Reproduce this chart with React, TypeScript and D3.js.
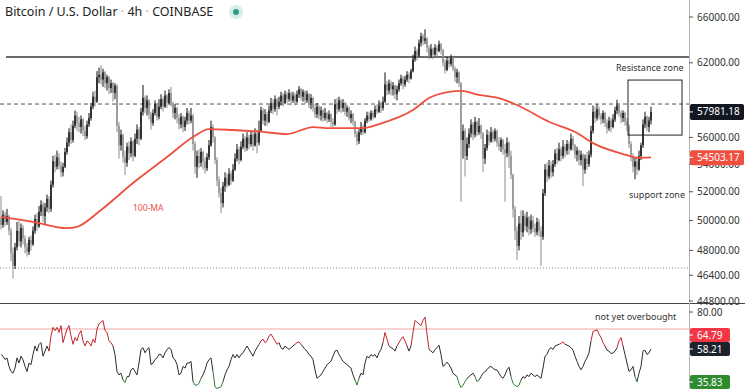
import React from "react";
import * as d3 from "d3";

// BTC/USD 4h candles (open = previous close)
const firstOpen = 50200;
const closes = [
  49700, 50400, 49900, 50300, 49300, 47800, 47000, 48200, 49300, 48600,
  49500, 48800, 48200, 47900, 48700, 48400, 49300, 50100, 49600, 50600,
  51100, 50300, 50900, 51500, 50800, 52500, 54200, 53800, 54500, 53900,
  53400, 53800, 54900, 55600, 56400, 55800, 56900, 57700, 57100, 56800,
  57400, 56500, 56100, 57000, 57500, 58400, 59200, 58800, 60800, 61000,
  60600, 61200, 60300, 60800, 59900, 60300, 59500, 60100, 56900, 55400,
  56200, 54500, 54100, 55300, 54800, 55700, 54600, 55900, 56600, 55900,
  58000, 59100, 58300, 58900, 57800, 57100, 57900, 58600, 57600, 58400,
  59000, 58400, 59300, 58700, 59500, 58700, 57900, 58300, 57500, 57000,
  57600, 56800, 57300, 57900, 57300, 57700, 55500, 53800, 54600, 54100,
  54900, 54200, 53700, 54500, 55400, 56800, 56000, 54300, 52800, 51900,
  51200, 52400, 53000, 52500, 53300, 52800, 53600, 54400, 55100, 54300,
  55300, 55900, 55200, 56000, 55500, 56200, 55400, 56300, 55600, 56500,
  58100, 57300, 57800, 57200, 58100, 58700, 58200, 59000, 58400, 58800,
  59300, 58700, 59400, 59000, 59500, 58900, 59300, 58800, 59400, 59800,
  59200, 59600, 58900, 59400, 58700, 59100, 58300, 57800, 58400, 57700,
  58100, 57500, 57900, 57400, 57800, 57200, 57000, 58600, 58200, 58900,
  58300, 58700, 58000, 58300, 57500, 57800, 57200, 56300, 55700, 56400,
  56800, 56400, 57300, 57700, 57400, 57900, 57600, 58200, 58000, 58500,
  58300, 58800, 60200, 59700, 60300, 59800, 60100, 59400, 59800, 60300,
  60700, 60200, 60600, 61000, 60700, 61300, 62300, 63000, 62600, 63700,
  64300, 63900, 64100, 63300, 62600, 63200, 62700, 63300, 63000, 63600,
  63100, 62000, 61400, 62200, 61900, 62400, 61500, 60800, 61200, 60300,
  55800, 56500, 54600, 55500, 56300, 57000, 56200, 57200, 56400, 56900,
  56300, 54400, 55200, 56200, 55700, 56400, 55900, 56500, 55600, 55300,
  55800, 55100, 54800, 55600, 54600, 53200, 50800, 49300, 48300, 49800,
  49200, 50300, 49600, 50200, 49400, 50000, 49500, 49200, 49900, 49300,
  48900, 51900, 53600, 53100, 53900, 53400, 54000, 54800, 54300, 55100,
  54600, 55300, 55000, 55500, 55100, 55900, 55400, 54700, 55000, 54300,
  54700, 53600, 54400, 54000, 54700, 56500, 58000, 57500, 58200, 57700,
  57400, 57900, 57100, 56700, 57300, 56800, 57400, 58100, 58500, 57900,
  57500, 57900, 57200, 56900, 55500, 54600, 53800, 54200, 53600, 54600,
  55400, 57000, 57600, 56800, 57300, 57981.18,
];
const highs = [
  51700, 50700, 50600, 50800, 50400, 49500, 48200, 48500, 49900, 50000,
  49800, 49700, 49000, 48500, 48900, 49000, 49600, 50400, 50500, 51000,
  51400, 51300, 51200, 51800, 51700, 52800, 54600, 54700, 55000, 54800,
  54200, 54100, 55200, 56000, 56700, 57000, 57300, 58100, 58000, 57600,
  57700, 57500, 56900, 57300, 57900, 58700, 59600, 59700, 61300, 61600,
  61800, 61500, 61300, 61000, 60900, 60600, 60400, 60300, 60200, 57200,
  56600, 56300, 55000, 55600, 55700, 56000, 55800, 56300, 57000, 56800,
  58300, 60150, 59300, 59300, 59000, 58000, 58200, 58900, 58700, 59000,
  59400, 59200, 59700, 59400, 59800, 60000, 58800, 58600, 58400, 57800,
  57900, 57700, 57600, 58300, 58100, 58300, 57800, 55700, 55000, 55100,
  55200, 55000, 54500, 54800, 55800, 57300, 57000, 56100, 54500, 53100,
  52300, 52700, 53400, 53300, 53700, 53500, 54000, 54800, 55500, 55300,
  55700, 56300, 56100, 56400, 56200, 56500, 56400, 56700, 56600, 57300,
  58400, 58300, 58200, 58000, 58500, 59100, 59000, 59300, 59100, 59200,
  59600, 59500, 59700, 59600, 59800, 59600, 59600, 59500, 59700, 60070,
  59900, 59800, 59700, 59700, 59500, 59400, 59200, 58600, 58700, 58500,
  58400, 58200, 58300, 58000, 58100, 57900, 57500, 59000, 59100, 59200,
  59000, 59000, 58800, 58500, 58400, 58100, 57900, 57300, 56500, 56700,
  57200, 57000, 57500, 58000, 58000, 58100, 58100, 58500, 58600, 58900,
  58800, 59200, 61200, 60500, 60600, 60500, 60400, 60200, 60100, 60600,
  61000, 60900, 60900, 61300, 61200, 61500, 62700, 63400, 63200, 64000,
  64600, 64500, 64900, 64200, 63500, 63600, 63300, 63600, 63500, 63900,
  63700, 63200, 62300, 62500, 62500, 62700, 62500, 61700, 61500, 61300,
  60400, 57000, 56700, 56000, 56700, 57400, 57200, 57600, 57300, 57500,
  57000, 56400, 55500, 56600, 56500, 56800, 56600, 56700, 56600, 56000,
  56000, 55900, 55500, 56000, 55700, 55000, 53300, 51000, 49600, 50300,
  50700, 50700, 50500, 50600, 50300, 50400, 50300, 49800, 50200, 50100,
  49600, 52200, 54000, 54100, 54300, 54200, 54300, 55100, 55200, 55600,
  55300, 55800, 55500, 55800, 55700, 56300, 56100, 55500, 55300, 55100,
  55000, 54800, 54700, 54900, 55000, 56900, 58500, 58400, 58600, 58400,
  57900, 58100, 58000, 57400, 57600, 57500, 57800, 58400, 58950, 58600,
  58100, 58100, 58000, 57500, 57000, 55700, 54800, 54500, 54400, 55000,
  55600, 57400, 58000, 57700, 57600, 58400,
];
const lows = [
  49400, 49500, 49600, 49700, 49000, 47300, 46200, 46800, 48000, 48300,
  48200, 48400, 47800, 47600, 47700, 48000, 48300, 49100, 49300, 49500,
  50300, 49900, 49700, 50600, 50500, 50600, 52300, 53400, 53600, 53600,
  53050, 53100, 53700, 54700, 55300, 55500, 55600, 56700, 56500, 56400,
  56300, 56100, 55800, 55900, 56800, 57300, 58200, 58400, 58700, 60300,
  60200, 60000, 59900, 59700, 59400, 59500, 58800, 59000, 56400, 54400,
  55000, 54100, 53200, 53800, 54300, 54500, 54200, 54500, 55500, 55400,
  55800, 57700, 57900, 57700, 57400, 56600, 56900, 57700, 57300, 57400,
  58200, 58000, 58300, 58300, 58600, 58400, 57500, 57400, 57100, 56600,
  56700, 56400, 56500, 57000, 57000, 57100, 55000, 53300, 53000, 53700,
  53800, 53600, 53300, 53500, 54300, 55300, 55600, 54000, 52400, 51600,
  50500, 50900, 52000, 52300, 52400, 52500, 52700, 53500, 54200, 54000,
  54200, 55100, 54900, 55000, 55100, 55300, 55000, 55300, 54800, 55400,
  56400, 57000, 56900, 56900, 57100, 57900, 57800, 58000, 57700, 58200,
  58500, 58400, 58600, 58700, 58800, 58500, 58700, 58500, 58700, 59100,
  58900, 58800, 58600, 58700, 58300, 58200, 58000, 57500, 57500, 57400,
  57300, 57200, 57300, 57100, 57200, 56800, 56800, 56900, 57800, 58000,
  57900, 58000, 57700, 57600, 57300, 57100, 56900, 56000, 55400, 55500,
  56200, 56200, 56300, 57100, 57200, 57300, 57400, 57500, 57800, 57900,
  57900, 58100, 58700, 59300, 59400, 59300, 59300, 59000, 58900, 59600,
  60100, 59800, 60000, 60400, 60300, 60600, 61200, 62100, 62200, 62500,
  63400, 63500, 63600, 62900, 62300, 62400, 62300, 62600, 62500, 62900,
  62700, 61700, 61100, 61300, 61600, 61700, 61300, 60400, 60300, 60000,
  51300, 54400, 53100, 54300, 55200, 56000, 55800, 56000, 56100, 56200,
  55900, 53400, 54000, 55000, 55400, 55600, 55600, 55700, 55300, 55000,
  54900, 54700, 51300, 54500, 53700, 52900, 50200, 48700, 47400, 48000,
  48700, 48900, 49300, 49200, 49000, 49100, 49200, 48900, 49000, 48900,
  47000, 48700, 51700, 52700, 52900, 53000, 53100, 53800, 54000, 54200,
  54200, 54400, 54500, 54700, 54700, 55000, 55000, 54400, 54200, 53900,
  53900, 52400, 53300, 53600, 53800, 54500, 56300, 57100, 57300, 57400,
  57000, 57100, 56800, 56300, 56500, 56400, 56700, 57200, 57800, 57600,
  57100, 57200, 56900, 56500, 55200, 54200, 53400, 52900, 53200, 53500,
  54300, 55200, 56700, 56500, 56400, 57000,
];

// RSI (one value per candle)
const rsi = [
  55, 54, 52, 53, 48, 45, 44, 47, 53, 50, 54, 52, 48, 45, 50, 49, 55, 60, 57, 61,
  62, 54, 57, 60, 57, 66, 71, 69, 71, 68, 72, 62, 66, 70, 72, 66, 61, 65, 63, 67,
  69, 63, 60, 63, 62, 60, 64, 62, 70, 73, 74, 75, 69, 68, 63, 62, 60, 55, 45, 43,
  44, 40, 38.5, 42, 42, 46, 47, 45, 43, 50, 58, 59, 56, 58, 59, 49, 50, 52, 53, 55,
  55, 53, 56, 58, 59, 58, 53, 52, 49, 43, 44, 48, 47, 50, 50, 51, 39, 37, 37, 38,
  41, 43, 46, 50, 52, 53, 45, 36, 35, 35.5, 36, 39, 43, 46, 48, 52, 55, 53, 55, 53,
  55, 56, 58, 60, 58, 56, 54, 57, 59, 61, 63, 64, 62, 63, 66, 67, 65, 63, 61, 62,
  59, 58, 60, 59, 58, 59, 60, 61, 62, 62.5, 61, 59.5, 58, 57, 55, 54, 52, 46, 41, 42,
  43, 45, 47, 49, 50, 51, 54, 57, 57.5, 55, 53, 51, 50, 49, 48, 47, 43, 40, 37, 41,
  44, 43, 50, 54, 53, 55, 54, 55, 53, 56, 58, 62, 68, 64, 60, 59, 58.5, 57, 60, 62,
  64, 65.5, 63, 60, 57, 60, 68, 75, 74, 73, 72, 75, 77, 67, 58, 57, 56, 58, 59, 60.5,
  55, 48, 49, 50.5, 49, 47, 44, 43, 42, 38, 35.5, 37, 39, 41, 42, 43, 44, 42, 39, 40,
  42, 44, 45, 46, 47.5, 48, 47, 46, 46, 44, 42, 41, 43, 46, 47.5, 42, 38, 37, 36, 37,
  40, 42, 41, 43, 42, 44, 43, 42, 43, 42, 41, 47, 54, 55, 58, 59, 58, 60, 60.5, 61,
  61.5, 62.5, 61, 60.5, 60, 59, 57.5, 54, 51, 48, 46, 48, 51, 53, 56, 63, 68.5, 69, 69.5, 67,
  65, 62, 60, 57.5, 57, 55.5, 56, 57, 59, 63, 65, 60, 55, 50, 45, 46, 48, 42, 39, 44,
  48, 57, 57.5, 55, 56, 58.21,
];

// 100-MA, sampled at candle indices
const maIndex = [0, 16, 33, 38, 50, 66, 83, 96, 104, 116, 130, 143, 156, 164, 181, 189, 206, 214, 224, 230, 239, 249, 258, 274, 288, 296, 313, 318, 325];
const maValue = [50250, 49910, 49480, 49570, 50720, 52620, 54520, 56030, 56640, 56570, 56440, 56260, 56800, 56720, 56720, 57030, 58130, 59090, 59590, 59680, 59340, 59090, 58530, 57210, 56340, 55570, 54670, 54470, 54503.17];

const priceTicks = [66000, 62000, 56000, 54000, 52000, 50000, 48000, 46400, 44800];
const rsiTicks = [80, 40];
const lastPrice = 57981.18;
const lastMA = 54503.17;
const rsiTags = [
  { v: 64.79, fill: "#f23645" },
  { v: 58.21, fill: "#1e222d" },
  { v: 35.83, fill: "#2e8b2e" },
];
const resistanceLevel = 62490;
const dashedLevel = 58610;
const dottedLevel = 46860;
const zone = { from: 313.5, to: 340.5, top: 60560, bottom: 56180 };

const W = 745;
const H = 389;
const axisX = 689;
const paneSplit = 303.5;
const font = "'Noto Sans', Roboto, sans-serif";

export default function App() {
  const n = closes.length;
  const x = d3.scaleLinear().domain([0, n - 1]).range([1, 651]);
  const y = d3.scaleLog().domain([44800, 66000]).range([301, 17]);
  const yr = d3.scaleLinear().domain([40, 80]).range([380, 312]);

  const opens = closes.map((c, i) => (i === 0 ? firstOpen : closes[i - 1]));

  const maPath = d3
    .line<number>()
    .x((d, k) => x(maIndex[k]))
    .y((d) => y(d))
    .curve(d3.curveMonotoneX)(maValue);

  // rsi line split into coloured runs
  const colorOf = (a: number, b: number) => {
    const m = (a + b) / 2;
    if (m >= 61) return "#c0262b";
    if (m <= 40.5) return "#2e7d32";
    return "#2b2b2b";
  };
  const runs: { color: string; pts: [number, number][] }[] = [];
  let cur: { color: string; pts: [number, number][] } | null = null;
  for (let i = 1; i < n; i++) {
    const c = colorOf(rsi[i - 1], rsi[i]);
    if (!cur || cur.color !== c) {
      cur = { color: c, pts: [[x(i - 1), yr(rsi[i - 1])]] };
      runs.push(cur);
    }
    cur.pts.push([x(i), yr(rsi[i])]);
  }
  const rsiLine = d3.line();

  // tag positions in rsi pane (push apart, keep inside)
  const tagY = rsiTags.map((t) => Math.min(yr(t.v), H - 7));
  if (tagY[1] - tagY[0] < 14) tagY[0] = tagY[1] - 14;

  return (
    <svg width={W} height={H} style={{ position: "absolute", left: 0, top: 0, background: "#fff" }} fontFamily={font}>
      <defs>
        <clipPath id="main"><rect x={0} y={0} width={axisX} height={paneSplit} /></clipPath>
        <clipPath id="low"><rect x={0} y={paneSplit + 1} width={axisX} height={H - paneSplit} /></clipPath>
      </defs>
      <rect x={0} y={0} width={W} height={H} fill="#fff" />

      <g clipPath="url(#main)">
        {/* drawn levels */}
        <line x1={6} x2={axisX} y1={y(resistanceLevel)} y2={y(resistanceLevel)} stroke="#3a3a3a" strokeWidth={1.6} />
        <line x1={0} x2={axisX} y1={y(dashedLevel)} y2={y(dashedLevel)} stroke="#555" strokeWidth={1} strokeDasharray="4,3" />
        <line x1={0} x2={axisX} y1={y(dottedLevel)} y2={y(dottedLevel)} stroke="#888" strokeWidth={1} strokeDasharray="1,2" />

        {/* candles */}
        {closes.map((c, i) => {
          const o = opens[i];
          const up = c >= o;
          const col = up ? "#111" : "#8c8c8c";
          const cx = x(i);
          const top = y(Math.max(o, c));
          const bot = y(Math.min(o, c));
          return (
            <g key={i}>
              <line x1={cx} x2={cx} y1={y(highs[i])} y2={y(lows[i])} stroke={col} strokeWidth={1} />
              <rect x={cx - 0.7} y={top} width={1.4} height={Math.max(bot - top, 1)} fill={col} />
            </g>
          );
        })}

        {/* 100-MA */}
        <path d={maPath || ""} fill="none" stroke="#ef4f3f" strokeWidth={1.8} />

        {/* zone box */}
        <rect
          x={x(zone.from)}
          y={y(zone.top)}
          width={x(zone.to) - x(zone.from)}
          height={y(zone.bottom) - y(zone.top)}
          fill="none"
          stroke="#222"
          strokeWidth={1}
        />
        <text x={616} y={71} fontSize={9} fill="#333">Resistance zone</text>
        <text x={629} y={198} fontSize={9} fill="#333">support zone</text>
        <text x={133} y={211} fontSize={8.5} fill="#e8503f">100-MA</text>
      </g>

      {/* rsi pane */}
      <g clipPath="url(#low)">
        <line x1={0} x2={axisX} y1={yr(70)} y2={yr(70)} stroke="#f5a3a3" strokeWidth={1} />
        {runs.map((r, k) => (
          <path key={k} d={rsiLine(r.pts) || ""} fill="none" stroke={r.color} strokeWidth={1} />
        ))}
        <text x={595} y={320} fontSize={9} fill="#333">not yet overbought</text>
      </g>

      {/* separators */}
      <line x1={0} x2={W} y1={paneSplit} y2={paneSplit} stroke="#444" strokeWidth={1} />
      <line x1={axisX + 0.5} x2={axisX + 0.5} y1={0} y2={H} stroke="#b5b5b5" strokeWidth={1} />

      {/* price axis */}
      {priceTicks.map((t) => (
        <g key={t}>
          <line x1={axisX} x2={axisX + 4} y1={y(t)} y2={y(t)} stroke="#555" />
          <text x={697} y={y(t)} dy="0.35em" fontSize={10} fill="#333">{t.toFixed(2)}</text>
        </g>
      ))}
      <g>
        <rect x={axisX + 1} y={y(lastPrice) - 8} width={54} height={16} rx={2} fill="#131722" />
        <line x1={axisX} x2={axisX + 4} y1={y(lastPrice)} y2={y(lastPrice)} stroke="#fff" />
        <text x={697} y={y(lastPrice)} dy="0.35em" fontSize={10} fill="#fff">{lastPrice.toFixed(2)}</text>
      </g>
      <g>
        <rect x={axisX + 1} y={y(lastMA) - 7} width={54} height={15} rx={2} fill="#ef4f3f" />
        <line x1={axisX} x2={axisX + 4} y1={y(lastMA)} y2={y(lastMA)} stroke="#fff" />
        <text x={697} y={y(lastMA)} dy="0.35em" fontSize={10} fill="#fff">{lastMA.toFixed(2)}</text>
      </g>

      {/* rsi axis */}
      {rsiTicks.map((t) => (
        <g key={t}>
          <line x1={axisX} x2={axisX + 4} y1={yr(t)} y2={yr(t)} stroke="#555" />
          <text x={697} y={yr(t)} dy="0.35em" fontSize={10} fill="#333">{t.toFixed(2)}</text>
        </g>
      ))}
      {rsiTags.map((t, k) => (
        <g key={t.v}>
          <rect x={axisX + 1} y={tagY[k] - 7} width={40} height={14} rx={2} fill={t.fill} />
          <line x1={axisX} x2={axisX + 4} y1={tagY[k]} y2={tagY[k]} stroke="#fff" />
          <text x={697} y={tagY[k]} dy="0.35em" fontSize={10} fill="#fff">{t.v.toFixed(2)}</text>
        </g>
      ))}

      {/* title */}
      <text x={5} y={16} fontSize={12.5} fill="#222">
        Bitcoin / U.S. Dollar<tspan fill="#aaa"> · </tspan>4h<tspan fill="#aaa"> · </tspan>COINBASE
      </text>
      <circle cx={236} cy={12} r={7} fill="#d6eee9" />
      <circle cx={236} cy={12} r={3} fill="#2f9c86" />
    </svg>
  );
}
